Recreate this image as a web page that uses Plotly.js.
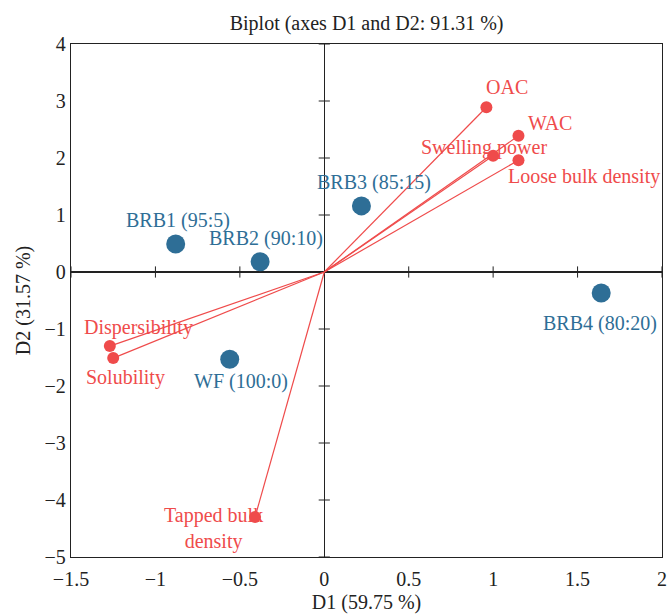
<!DOCTYPE html>
<html>
<head>
<meta charset="utf-8">
<script src="https://cdn.plot.ly/plotly-3.0.1.min.js"></script>
<style>html,body{margin:0;padding:0;background:#fff;}#chart{width:669px;height:614px;}</style>
</head>
<body>
<div id="chart"></div>
<script>
// Observations (blue)
const obsNames = ["BRB1 (95:5)", "BRB2 (90:10)", "BRB3 (85:15)", "BRB4 (80:20)", "WF (100:0)"];
const obsD1 = [-0.88, -0.38, 0.22, 1.64, -0.56];
const obsD2 = [0.49, 0.18, 1.16, -0.37, -1.53];

// Variables (red)
const varNames = ["OAC", "WAC", "Swelling power", "Loose bulk density", "Dispersibility", "Solubility", "Tapped bulk<br>density"];
const varD1 = [0.96, 1.15, 1.00, 1.15, -1.27, -1.25, -0.41];
const varD2 = [2.89, 2.39, 2.04, 1.96, -1.30, -1.51, -4.30];

const xTicks = [-1.5, -1, -0.5, 0, 0.5, 1, 1.5, 2];
const xTickText = ["\u22121.5", "\u22121", "\u22120.5", "0", "0.5", "1", "1.5", "2"];
const yTicks = [-5, -4, -3, -2, -1, 0, 1, 2, 3, 4];
const yTickText = ["\u22125", "\u22124", "\u22123", "\u22122", "\u22121", "0", "1", "2", "3", "4"];

// label offsets in pixels (layout only)
const obsShift = [[2, 24], [6, 23], [13, 23], [-1, -30], [11, -22]];
const varShift = [[21, 20], [32, 13], [-9, 8], [66, -16], [29, 19], [12, -19], [-42, -11]];

const BLUE = "#2e6e96";
const RED = "#ef4b4b";
const FONT = "'Liberation Serif', 'Times New Roman', serif";
const FS = 20;

const lx = [], ly = [];
for (let i = 0; i < varD1.length; i++) { lx.push(0, varD1[i], null); ly.push(0, varD2[i], null); }

const traces = [
  {x: xTicks.filter(v => v !== 0), y: xTicks.filter(v => v !== 0).map(() => 0), mode: "markers", type: "scatter",
   marker: {symbol: "line-ns", size: 8, line: {width: 1, color: "#222"}}, hoverinfo: "skip", showlegend: false},
  {x: yTicks.filter(v => v !== 0).map(() => 0), y: yTicks.filter(v => v !== 0), mode: "markers", type: "scatter",
   marker: {symbol: "line-ew", size: 8, line: {width: 1, color: "#222"}}, hoverinfo: "skip", showlegend: false},
  {x: lx, y: ly, mode: "lines", type: "scatter", line: {color: RED, width: 1.2}, hoverinfo: "skip", showlegend: false},
  {x: varD1, y: varD2, mode: "markers", type: "scatter", marker: {color: RED, size: 12}, text: varNames, showlegend: false},
  {x: obsD1, y: obsD2, mode: "markers", type: "scatter", marker: {color: BLUE, size: 19}, text: obsNames, showlegend: false}
];

const annotations = [];
obsNames.forEach((n, i) => annotations.push({x: obsD1[i], y: obsD2[i], text: n, showarrow: false,
  xshift: obsShift[i][0], yshift: obsShift[i][1], font: {family: FONT, size: FS, color: BLUE}}));
varNames.forEach((n, i) => annotations.push({x: varD1[i], y: varD2[i], text: n, showarrow: false,
  xshift: varShift[i][0], yshift: varShift[i][1], font: {family: FONT, size: FS, color: RED}}));

const layout = {
  width: 669, height: 614,
  margin: {l: 71, r: 7, t: 44, b: 57},
  paper_bgcolor: "#fff", plot_bgcolor: "#fff",
  font: {family: FONT, size: FS, color: "#222"},
  title: {text: "Biplot (axes D1 and D2: 91.31 %)", x: 0.548, xanchor: "center", y: 0.963, yanchor: "middle",
          font: {family: FONT, size: FS, color: "#222"}},
  xaxis: {range: [-1.5, 2], tickvals: xTicks, ticktext: xTickText, showgrid: false,
          zeroline: true, zerolinecolor: "#222", zerolinewidth: 1.2,
          showline: true, mirror: true, linecolor: "#222", linewidth: 1.2, ticks: "",
          ticklabelstandoff: 4, tickfont: {family: FONT, size: FS},
          title: {text: "D1 (59.75 %)", standoff: 8, font: {family: FONT, size: FS}}},
  yaxis: {range: [-5, 4], tickvals: yTicks, ticktext: yTickText, showgrid: false,
          zeroline: true, zerolinecolor: "#222", zerolinewidth: 1.2,
          showline: true, mirror: true, linecolor: "#222", linewidth: 1.2, ticks: "",
          tickfont: {family: FONT, size: FS},
          title: {text: "D2 (31.57 %)", standoff: 8, font: {family: FONT, size: FS}}},
  annotations: annotations
};

Plotly.newPlot("chart", traces, layout, {displayModeBar: false, staticPlot: true});
</script>
</body>
</html>
